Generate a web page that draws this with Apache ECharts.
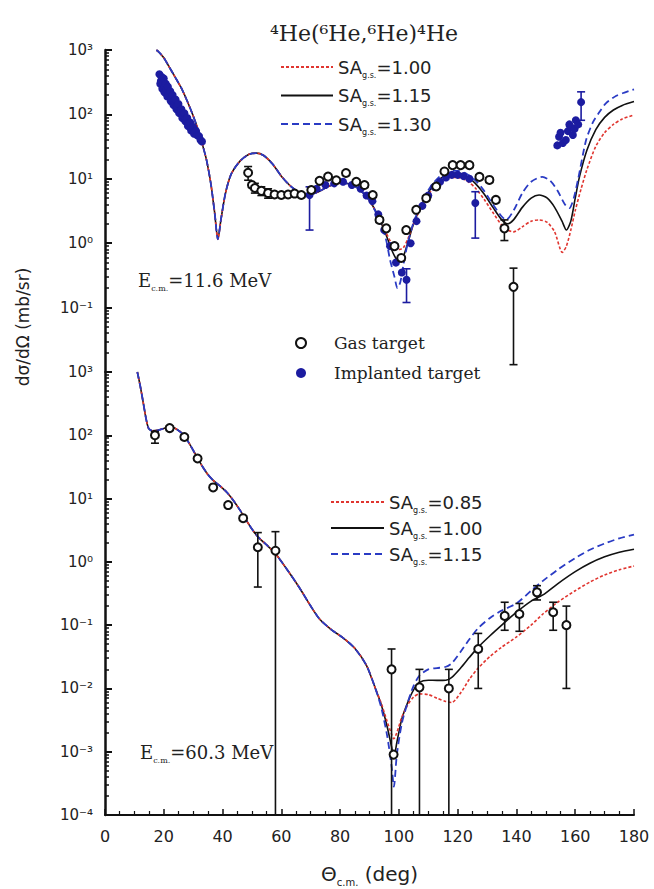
<!DOCTYPE html>
<html>
<head>
<meta charset="utf-8">
<script src="https://cdn.jsdelivr.net/npm/echarts@6/dist/echarts.min.js"></script>
<style>
html, body { margin: 0; padding: 0; background: #fff; }
#main { width: 654px; height: 889px; }
</style>
</head>
<body>
<div id="main"></div>
<script>
// ---- upper panel, E c.m. = 11.6 MeV : [angle (deg), dsigma/dOmega (mb/sr)]
var topSA100 = [[17.5,1000],[18,960],[20,760],[22,530],[24,370],[26,255],[28,160],[30,95],[32,52],[33,36],[34.5,20],[36,8.5],[37.3,3],[38.4,1.15],[39.5,2.4],[41,6],[43,12],[46,19],[49,24],[51.5,25],[54,23],[57,17],[60,11],[63,7.8],[66,6.2],[69,5.6],[72,6.1],[75,7.2],[78,8.2],[81,8.6],[84,8.1],[87,6.6],[90,4.6],[93,2.6],[95.5,1.5],[97.5,1.0],[99,0.85],[100.3,0.8],[101.5,0.85],[103,1.15],[105,2.0],[108,4.0],[111,6.5],[114,9],[117,10.5],[120,10.5],[123,9.4],[126,7.2],[129,4.8],[132,3],[135,1.9],[137,1.6],[139,1.5],[142,1.8],[145,2.2],[147.7,2.3],[150.5,2.1],[153,1.5],[155.6,0.72],[157,0.9],[158.5,1.6],[160,3.2],[162,7],[164,14],[167,32],[170,52],[173,70],[176,85],[180,98]];
var topSA115 = [[17.5,1000],[18,960],[20,760],[22,530],[24,370],[26,255],[28,160],[30,95],[32,52],[33,36],[34.5,20],[36,8.5],[37.3,3],[38.4,1.15],[39.5,2.4],[41,6],[43,12],[46,19],[49,24],[51.5,25],[54,23],[57,17],[60,11],[63,7.8],[66,6.2],[69,5.6],[72,6.1],[75,7.2],[78,8.2],[81,8.6],[84,8.1],[87,6.6],[90,4.6],[93,2.6],[95.5,1.4],[97.5,0.8],[99,0.58],[100.3,0.52],[101.5,0.62],[103,1.0],[105,2.0],[108,4.2],[111,7.2],[114,10],[117,12],[120,12.3],[123,11],[126,8.5],[129,5.8],[132,3.6],[135,2.3],[137,2.0],[139,2.3],[142,3.6],[145,5],[147.7,5.6],[150.5,5],[153,3.6],[155.5,2.2],[157,1.6],[158.5,2.2],[160,5],[161.5,11],[164,28],[167,58],[170,90],[173,117],[176,138],[180,158]];
var topSA130 = [[17.5,1000],[18,960],[20,760],[22,530],[24,370],[26,255],[28,160],[30,95],[32,52],[33,36],[34.5,20],[36,8.5],[37.3,3],[38.4,1.15],[39.5,2.4],[41,6],[43,12],[46,19],[49,24],[51.5,25],[54,23],[57,17],[60,11],[63,7.8],[66,6.2],[69,5.6],[72,6.1],[75,7.2],[78,8.2],[81,8.6],[84,8.1],[87,6.6],[90,4.6],[93,2.5],[95.5,1.2],[97,0.55],[98.5,0.3],[99.5,0.2],[100.5,0.25],[101.5,0.45],[103,1.0],[105,2.1],[108,4.5],[111,7.8],[114,11],[117,13],[120,13.3],[123,12],[126,9.5],[129,6.5],[132,4],[135,2.6],[136.5,2.3],[139,3.2],[142,6],[145,9],[148.8,10.7],[151.5,9.3],[154,6.5],[156.5,4],[158,3.5],[159.5,5],[161,10],[163.7,40],[166,75],[168,105],[170.5,150],[174,195],[177,220],[180,245]];

var topGas = [[48.7,12.4],[50,8],[51,7.2],[53.2,6.5],[55.5,6.0],[57.7,5.7],[60,5.6],[62.3,5.7],[64.5,5.9],[66.8,5.6],[70.2,6.7],[73,9.3],[75.9,10.8],[78.7,9.5],[82,12.3],[85.5,9],[88.3,8],[91.1,5.6],[93.4,2.3],[95.7,1.7],[98.5,0.9],[100.8,0.59],[102.5,1.6],[105.9,3.3],[109.3,5],[112.7,7.6],[115.5,13],[118.3,16.3],[121,16.3],[124,16.3],[127.4,10.7],[130.8,9.6],[133,4.7],[135.9,1.7],[139,0.21]];
var topGasErr = [[48.7,9.5,15.5],[51,6,8.5],[53.2,5.5,7.5],[55.5,5,7],[135.9,1.1,2.3],[139,0.013,0.41]];

var topImplanted = [[18.5,420],[18.8,300],[19,330],[19.3,380],[19.5,250],[19.6,300],[20,360],[20.2,220],[20.3,270],[20.7,300],[21,240],[21.2,190],[21.4,270],[21.8,210],[22.2,230],[22.4,160],[22.6,180],[23,200],[23.3,140],[23.5,160],[24,170],[24.3,120],[24.5,135],[25,145],[25.2,105],[25.5,115],[26,120],[26.3,88],[26.5,98],[27,104],[27.3,78],[27.5,85],[28,88],[28.2,66],[28.5,72],[29,75],[29.3,56],[29.5,62],[30,64],[30.3,50],[30.5,54],[31,55],[31.5,47],[32,46],[32.5,40],[33,38],
  [69.6,5.6],[72,7],[75,8],[78,8.5],[81,9],[84,8],[87,7],[89,5.5],[91,4.5],[93,2.8],[95,1.6],[97,0.9],[99,0.5],[101,0.35],[102.6,0.27],[104,1.0],[106,2.2],[108,3.8],[110,5.5],[112,7.5],[114,9],[116,10.5],[118,11.5],[120,11.5],[122,11],[124,10],[126,4.2],
  [153.9,33],[154.5,45],[155,52],[155.8,36],[156.8,40],[157.5,55],[158,70],[158.5,63],[159.2,48],[159.8,60],[160.2,81],[161,70],[162,155]];
var topImplantedErr = [[69.6,1.6,7.5],[102.6,0.12,0.4],[126,1.2,6.3],[162,81,224]];

// ---- lower panel, E c.m. = 60.3 MeV
var botSA085 = [[11,1000],[12,600],[13,330],[14,180],[14.8,130],[16,118],[18,120],[20,128],[22,136],[24,128],[26.7,102],[29,70],[31.2,46],[33,33],[35,24],[37,19],[39,16],[41.5,12.5],[43.5,9.6],[46,6.5],[48,4.6],[50,3.3],[52,2.5],[55,1.85],[58,1.35],[62,0.75],[66,0.4],[70,0.2],[73,0.125],[77,0.085],[81,0.063],[85,0.043],[89,0.023],[92,0.01],[94,0.0058],[96,0.003],[97.5,0.0019],[98.3,0.0016],[99.3,0.002],[101,0.0035],[103,0.0055],[105,0.0073],[107,0.0082],[110,0.008],[113,0.007],[116,0.0062],[118,0.006],[121,0.0085],[124,0.014],[127,0.021],[131,0.032],[135,0.045],[140,0.065],[145,0.1],[149,0.15],[154,0.23],[160,0.35],[165,0.48],[170,0.62],[175,0.75],[180,0.86]];
var botSA100 = [[11,1000],[12,600],[13,330],[14,180],[14.8,130],[16,118],[18,120],[20,128],[22,136],[24,128],[26.7,102],[29,70],[31.2,46],[33,33],[35,24],[37,19],[39,16],[41.5,12.5],[43.5,9.6],[46,6.5],[48,4.6],[50,3.3],[52,2.5],[55,1.85],[58,1.35],[62,0.75],[66,0.4],[70,0.2],[73,0.125],[77,0.085],[81,0.063],[85,0.043],[89,0.023],[92,0.01],[94,0.0055],[96,0.0025],[97.5,0.0012],[98.3,0.0008],[99.3,0.0014],[101,0.0033],[103,0.006],[105,0.0095],[107,0.0125],[110,0.0135],[113,0.0134],[116,0.0135],[118,0.015],[121,0.021],[124,0.031],[127,0.045],[131,0.068],[135,0.1],[140,0.16],[145,0.24],[149,0.3],[154,0.45],[160,0.7],[165,0.95],[170,1.2],[175,1.42],[180,1.58]];
var botSA115 = [[11,1000],[12,600],[13,330],[14,180],[14.8,130],[16,118],[18,120],[20,128],[22,136],[24,128],[26.7,102],[29,70],[31.2,46],[33,33],[35,24],[37,19],[39,16],[41.5,12.5],[43.5,9.6],[46,6.5],[48,4.6],[50,3.3],[52,2.5],[55,1.85],[58,1.35],[62,0.75],[66,0.4],[70,0.2],[73,0.125],[77,0.085],[81,0.063],[85,0.043],[89,0.023],[92,0.01],[94,0.005],[96,0.0018],[97.5,0.0006],[98.3,0.00028],[99.3,0.0009],[101,0.0028],[103,0.006],[105,0.011],[107,0.016],[110,0.02],[113,0.021],[116,0.022],[118,0.025],[121,0.038],[124,0.06],[127,0.09],[131,0.13],[135,0.17],[140,0.22],[145,0.35],[149,0.5],[154,0.75],[160,1.15],[165,1.55],[170,1.95],[175,2.35],[180,2.7]];

var botGas = [[17,100],[22,130],[27,94],[31.5,43],[36.8,15],[41.9,7.9],[47,4.9],[52,1.7],[58,1.5],[97.5,0.02],[98.2,0.0009],[107,0.0104],[117,0.01],[127,0.042],[136,0.14],[141,0.15],[147,0.33],[152.5,0.16],[157,0.1]];
var botGasErr = [[17,75,115],[52,0.4,2.9],[58,0.0001,3],[97.5,0.0001,0.042],[107,0.0001,0.02],[117,0.0001,0.02],[127,0.01,0.074],[136,0.083,0.23],[141,0.08,0.22],[147,0.25,0.42],[152.5,0.083,0.23],[157,0.01,0.2]];

var xTicks = [0, 20, 40, 60, 80, 100, 120, 140, 160, 180];
var topLegendVals = ['1.00', '1.15', '1.30'];
var botLegendVals = ['0.85', '1.00', '1.15'];

var RED = '#e0352f', BLACK = '#111111', BLUE = '#2a3bc4', DOT = '#1c1ca0';
var SANS = '"DejaVu Sans", sans-serif', SERIF = '"DejaVu Serif", serif';

var supMap = {'-': '\u207B', '0': '\u2070', '1': '\u00B9', '2': '\u00B2', '3': '\u00B3', '4': '\u2074'};
function powLabel(v) {
  var e = Math.round(Math.log10(v));
  return '10' + String(e).split('').map(function (c) { return supMap[c]; }).join('');
}

function curve(name, data, idx, color, type, width) {
  return {
    type: 'line', name: name, xAxisIndex: idx, yAxisIndex: idx, data: data,
    symbol: 'none', showSymbol: false, smooth: 0.25, z: 2,
    lineStyle: { color: color, type: type, width: width }, itemStyle: { color: color }
  };
}

function errorBars(data, color, idx) {
  return {
    type: 'custom', xAxisIndex: idx, yAxisIndex: idx, data: data, clip: true, z: 3,
    encode: { x: 0, y: [1, 2] },
    renderItem: function (params, api) {
      var hi = api.coord([api.value(0), api.value(2)]);
      var lo = api.coord([api.value(0), api.value(1)]);
      var c = 4;
      function seg(x1, y1, x2, y2) {
        return { type: 'line', shape: { x1: x1, y1: y1, x2: x2, y2: y2 }, style: { stroke: color, lineWidth: 1.6 } };
      }
      return { type: 'group', children: [
        seg(hi[0], hi[1], lo[0], lo[1]),
        seg(hi[0] - c, hi[1], hi[0] + c, hi[1]),
        seg(lo[0] - c, lo[1], lo[0] + c, lo[1])
      ] };
    }
  };
}

function yAxisFor(idx, min, max, hideMin) {
  return {
    type: 'log', gridIndex: idx, logBase: 10, min: min, max: max, splitNumber: Math.round(Math.log10(max / min)),
    axisLine: { show: true, lineStyle: { color: BLACK, width: 2.5 } },
    axisTick: { inside: true, length: 7, lineStyle: { color: BLACK, width: 2 } },
    minorTick: { show: true, splitNumber: 9, length: 4, lineStyle: { color: BLACK, width: 1.5 } },
    splitLine: { show: false },
    axisLabel: {
      margin: 12, color: '#222', fontFamily: SANS, fontSize: 15,
      formatter: function (v) {
        if (hideMin && Math.round(Math.log10(v)) === Math.round(Math.log10(min))) return '';
        return powLabel(v);
      }
    }
  };
}

var legendRich = {
  sa: { fontFamily: SANS, fontSize: 18, color: '#222', lineHeight: 24 },
  gs: { fontFamily: SANS, fontSize: 8, color: '#222', lineHeight: 8, verticalAlign: 'bottom' }
};
function saFormatter(prefix, vals) {
  return function (name) {
    var v = vals[Number(name.slice(prefix.length))];
    return '{sa|SA}{gs|g.s.}{sa|=' + v + '}';
  };
}

var chart = echarts.init(document.getElementById('main'), null, { renderer: 'svg' });
chart.setOption({
  animation: false,
  backgroundColor: '#fff',
  grid: [
    { left: 105, right: 20, top: 50, height: 322, outerBoundsMode: 'none' },
    { left: 105, right: 20, top: 372, height: 443, outerBoundsMode: 'none' }
  ],
  xAxis: [
    { type: 'value', gridIndex: 0, min: 0, max: 180, show: false },
    {
      type: 'value', gridIndex: 1, min: 0, max: 180, interval: 20,
      axisLine: { show: true, lineStyle: { color: BLACK, width: 2 } },
      axisTick: { inside: true, length: 6, lineStyle: { color: BLACK, width: 1.5 } },
      minorTick: { show: true, splitNumber: 4, length: 4, lineStyle: { color: BLACK, width: 1.2 } },
      splitLine: { show: false },
      axisLabel: {
        margin: 13, color: '#222', fontFamily: SANS, fontSize: 16,
        formatter: function (v) { return xTicks.indexOf(v) >= 0 ? String(v) : ''; }
      },
      name: '{t|\u0398}{s|c.m.}{t| (deg)}', nameLocation: 'middle', nameGap: 46,
      nameTextStyle: {
        rich: {
          t: { fontFamily: SANS, fontSize: 20, color: '#222', lineHeight: 26 },
          s: { fontFamily: SANS, fontSize: 10, color: '#222', lineHeight: 10, verticalAlign: 'bottom' }
        }
      }
    }
  ],
  yAxis: [ yAxisFor(0, 0.01, 1000, true), yAxisFor(1, 0.0001, 1000, false) ],
  legend: [
    {
      data: ['t0', 't1', 't2'], orient: 'vertical', left: 280, top: 58, padding: 0,
      itemWidth: 52, itemHeight: 12, itemGap: 7.5, selectedMode: false,
      itemStyle: { color: 'rgba(0,0,0,0)', borderWidth: 0, opacity: 0 },
      formatter: saFormatter('t', topLegendVals), textStyle: { rich: legendRich }
    },
    {
      data: ['b0', 'b1', 'b2'], orient: 'vertical', left: 330, top: 493, padding: 0,
      itemWidth: 53, itemHeight: 12, itemGap: 5, selectedMode: false,
      itemStyle: { color: 'rgba(0,0,0,0)', borderWidth: 0, opacity: 0 },
      formatter: saFormatter('b', botLegendVals), textStyle: { rich: legendRich }
    },
    {
      data: ['Gas target', 'Implanted target'], orient: 'vertical', left: 295, top: 332, padding: 0,
      itemWidth: 56, itemHeight: 10, itemGap: 8, selectedMode: false,
      textStyle: { fontFamily: SERIF, fontSize: 17, color: '#222', lineHeight: 22 }
    }
  ],
  graphic: [
    {
      type: 'text', x: 364, y: 33, silent: true,
      style: { text: '\u2074He(\u2076He,\u2076He)\u2074He', font: '22px ' + SERIF, fill: '#222', align: 'center', verticalAlign: 'middle' }
    },
    {
      type: 'text', x: 138, y: 280, silent: true,
      style: {
        text: '{e|E}{s|c.m.}{e|=11.6 MeV}', fill: '#222', align: 'left', verticalAlign: 'middle',
        rich: {
          e: { fontFamily: SERIF, fontSize: 18, lineHeight: 24, fill: '#222' },
          s: { fontFamily: SERIF, fontSize: 8, lineHeight: 8, verticalAlign: 'bottom', fill: '#222' }
        }
      }
    },
    {
      type: 'text', x: 140, y: 752, silent: true,
      style: {
        text: '{e|E}{s|c.m.}{e|=60.3 MeV}', fill: '#222', align: 'left', verticalAlign: 'middle',
        rich: {
          e: { fontFamily: SERIF, fontSize: 18, lineHeight: 24, fill: '#222' },
          s: { fontFamily: SERIF, fontSize: 8, lineHeight: 8, verticalAlign: 'bottom', fill: '#222' }
        }
      }
    },
    {
      type: 'text', x: 23, y: 327, rotation: Math.PI / 2, silent: true,
      style: { text: 'd\u03C3/d\u03A9 (mb/sr)', font: '17px ' + SANS, fill: '#222', align: 'center', verticalAlign: 'middle' }
    }
  ],
  series: [
    curve('t1', topSA115, 0, BLACK, 'solid', 1.6),
    curve('t0', topSA100, 0, RED, [3, 2], 1.6),
    curve('t2', topSA130, 0, BLUE, [7, 4], 1.8),
    curve('b1', botSA100, 1, BLACK, 'solid', 1.6),
    curve('b0', botSA085, 1, RED, [3, 2], 1.6),
    curve('b2', botSA115, 1, BLUE, [7, 4], 1.8),
    errorBars(topImplantedErr, DOT, 0),
    {
      type: 'scatter', name: 'Implanted target', xAxisIndex: 0, yAxisIndex: 0, data: topImplanted,
      symbol: 'circle', symbolSize: 8, z: 4, itemStyle: { color: DOT, opacity: 1 }
    },
    errorBars(topGasErr, BLACK, 0),
    {
      type: 'scatter', name: 'Gas target', xAxisIndex: 0, yAxisIndex: 0, data: topGas,
      symbol: 'emptyCircle', symbolSize: 8, z: 5, itemStyle: { color: BLACK, borderColor: BLACK, borderWidth: 2, opacity: 1 }
    },
    errorBars(botGasErr, BLACK, 1),
    {
      type: 'scatter', name: 'Gas target', xAxisIndex: 1, yAxisIndex: 1, data: botGas,
      symbol: 'emptyCircle', symbolSize: 8, z: 5, itemStyle: { color: BLACK, borderColor: BLACK, borderWidth: 2, opacity: 1 }
    }
  ]
});
</script>
</body>
</html>
